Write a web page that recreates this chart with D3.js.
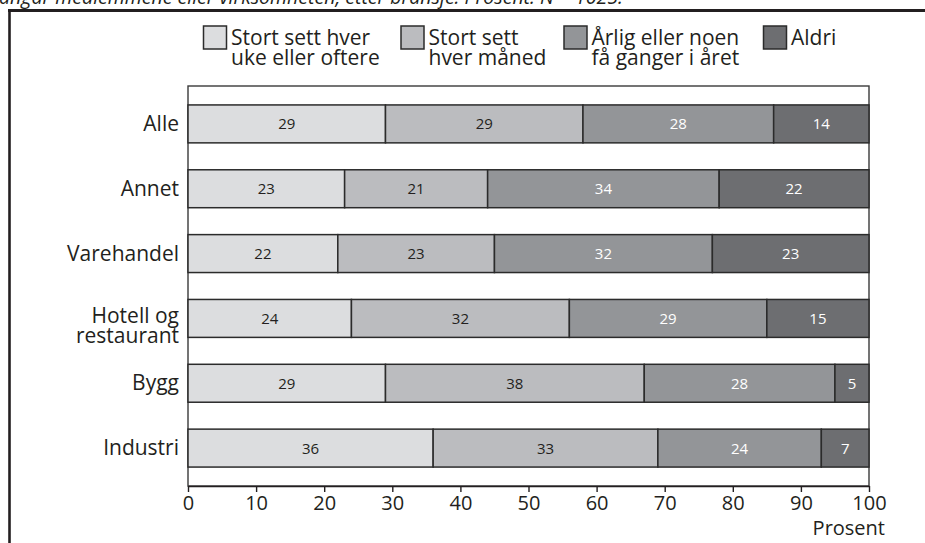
<!DOCTYPE html>
<html>
<head>
<meta charset="utf-8">
<script src="https://cdn.jsdelivr.net/npm/d3@7"></script>
<style>
  html, body { margin: 0; padding: 0; background: #fff; }
  svg { display: block; }
  text { font-family: "Open Sans", "Noto Sans", sans-serif; fill: #231f20; }
</style>
</head>
<body>
<svg id="chart" width="925" height="543"></svg>
<script>
// Bransjer (top to bottom) and share of answers per frequency, in percent
const categories = ["Alle", "Annet", "Varehandel", "Hotell og restaurant", "Bygg", "Industri"];
const weekly  = [29, 23, 22, 24, 29, 36];   // Stort sett hver uke eller oftere
const monthly = [29, 21, 23, 32, 38, 33];   // Stort sett hver måned
const yearly  = [28, 34, 32, 29, 28, 24];   // Årlig eller noen få ganger i året
const never   = [14, 22, 23, 15,  5,  7];   // Aldri

const seriesKeys   = ["weekly", "monthly", "yearly", "never"];
const seriesLabels = [
  ["Stort sett hver", "uke eller oftere"],
  ["Stort sett", "hver måned"],
  ["Årlig eller noen", "få ganger i året"],
  ["Aldri"]
];
const xTicks = [0, 10, 20, 30, 40, 50, 60, 70, 80, 90, 100];
const titleText = "angår medlemmene eller virksomheten, etter bransje. Prosent. N = 1025.";
const axisTitle = "Prosent";

const fills     = ["#dcdddf", "#bbbcbf", "#939598", "#6d6e71"];
const textFills = ["#231f20", "#231f20", "#ffffff", "#ffffff"];
const ink = "#231f20";

const rows = categories.map((c, i) => ({
  category: c, weekly: weekly[i], monthly: monthly[i], yearly: yearly[i], never: never[i]
}));
const stacked = d3.stack().keys(seriesKeys)(rows);

const svg = d3.select("#chart");

const plot = { left: 188, right: 869, top: 86, bottom: 486 };

const x = d3.scaleLinear().domain([0, 100]).range([plot.left, plot.right]);
const y = d3.scaleBand()
  .domain(categories)
  .range([plot.top, plot.bottom])
  .paddingInner(0.415)
  .paddingOuter(0.292);

// Caption line running off the top edge
svg.append("text")
  .attr("x", -1).attr("y", 4)
  .style("font-size", "19.5px")
  .style("font-style", "italic")
  .text(titleText);

// Outer frame: top and left rules
svg.append("line")
  .attr("x1", 8).attr("x2", 925).attr("y1", 10.5).attr("y2", 10.5)
  .attr("stroke", ink).attr("stroke-width", 3);
svg.append("line")
  .attr("x1", 9.5).attr("x2", 9.5).attr("y1", 9).attr("y2", 543)
  .attr("stroke", ink).attr("stroke-width", 2.6);

// Plot frame
svg.append("rect")
  .attr("x", plot.left).attr("y", plot.top)
  .attr("width", plot.right - plot.left).attr("height", plot.bottom - plot.top)
  .attr("fill", "none").attr("stroke", "#3a3a3a").attr("stroke-width", 1.4);

// Stacked bars
const layers = svg.append("g").selectAll("g")
  .data(stacked).join("g")
  .attr("fill", (d, i) => fills[i]);

layers.selectAll("rect")
  .data(d => d.map(v => ({ v, key: d.key })))
  .join("rect")
  .attr("x", d => x(d.v[0]))
  .attr("y", d => y(d.v.data.category))
  .attr("width", d => x(d.v[1]) - x(d.v[0]))
  .attr("height", y.bandwidth())
  .attr("stroke", "#2b2b2b")
  .attr("stroke-width", 1.5);

// Value labels inside the segments
stacked.forEach((layer, i) => {
  svg.append("g").selectAll("text")
    .data(layer).join("text")
    .attr("x", d => (x(d[0]) + x(d[1])) / 2)
    .attr("y", d => y(d.data.category) + y.bandwidth() / 2 + 5.5)
    .attr("text-anchor", "middle")
    .style("font-size", "15px")
    .style("fill", textFills[i])
    .text(d => d[1] - d[0]);
});

// Category labels (long names break onto two lines)
const catG = svg.append("g");
categories.forEach(c => {
  const lines = c.length > 12 ? [c.slice(0, c.lastIndexOf(" ")), c.slice(c.lastIndexOf(" ") + 1)] : [c];
  const cy = y(c) + y.bandwidth() / 2;
  const t = catG.append("text")
    .attr("text-anchor", "end")
    .style("font-size", "21px");
  lines.forEach((ln, k) => {
    t.append("tspan")
      .attr("x", 179)
      .attr("y", lines.length === 1 ? cy + 7 : cy + 5 + k * 20)
      .text(ln);
  });
});

// Bottom axis
const xAxis = d3.axisBottom(x).tickValues(xTicks).tickSize(6).tickSizeOuter(0).tickPadding(4);
const axG = svg.append("g")
  .attr("transform", `translate(0,${plot.bottom})`)
  .call(xAxis);
axG.select(".domain").attr("stroke", ink).attr("stroke-width", 1.6);
axG.selectAll(".tick line").attr("stroke", ink).attr("stroke-width", 1.4);
axG.selectAll(".tick text")
  .attr("fill", ink)
  .style("font-family", "'Open Sans', 'Noto Sans', sans-serif")
  .style("font-size", "20px");

svg.append("text")
  .attr("x", 885).attr("y", 535)
  .attr("text-anchor", "end")
  .style("font-size", "20px")
  .text(axisTitle);

// Legend
const legendX = [203.5, 401, 564, 763.5];
const leg = svg.append("g");
seriesLabels.forEach((lines, i) => {
  leg.append("rect")
    .attr("x", legendX[i]).attr("y", 26)
    .attr("width", 23).attr("height", 23)
    .attr("fill", fills[i])
    .attr("stroke", "#2b2b2b").attr("stroke-width", 1.5);
  const t = leg.append("text").style("font-size", "21px");
  lines.forEach((ln, k) => {
    t.append("tspan").attr("x", legendX[i] + 27.5).attr("y", 44.5 + k * 20).text(ln);
  });
});
</script>
</body>
</html>
